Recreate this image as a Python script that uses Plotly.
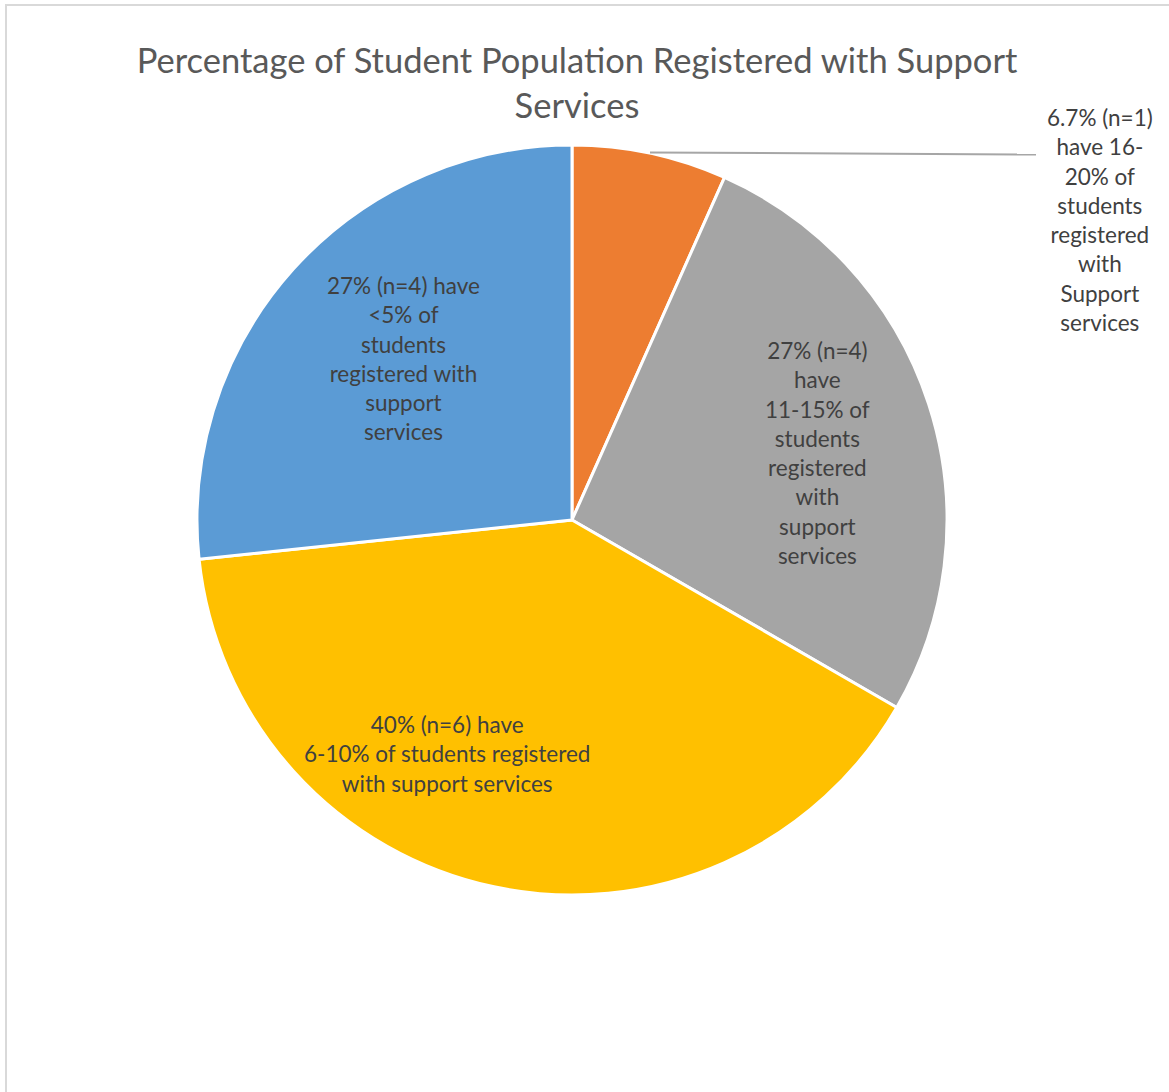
import plotly.graph_objects as go

# Share of institutions by the percentage of their students registered with support services
categories = ["16-20%", "11-15%", "6-10%", "<5%"]
counts = [1, 4, 6, 4]
colors = ["#ED7D31", "#A5A5A5", "#FFC000", "#5B9BD5"]
labels = [
    "6.7% (n=1)<br>have 16-<br>20% of<br>students<br>registered<br>with<br>Support<br>services",
    "27% (n=4)<br>have<br>11-15% of<br>students<br>registered<br>with<br>support<br>services",
    "40% (n=6) have<br>6-10% of students registered<br>with support services",
    "27% (n=4) have<br><5% of<br>students<br>registered with<br>support<br>services",
]

W, H = 1169, 1092
FONT = "Lato, 'Open Sans', sans-serif"


def px(x, y):
    return x / W, 1 - y / H


cx, cy, r = 572, 520, 375
fig = go.Figure(
    go.Pie(
        labels=categories,
        values=counts,
        sort=False,
        direction="clockwise",
        rotation=0,
        marker=dict(colors=colors, line=dict(color="white", width=3)),
        textinfo="none",
        hoverinfo="skip",
        showlegend=False,
        domain=dict(x=[(cx - r) / W, (cx + r) / W], y=[1 - (cy + r) / H, 1 - (cy - r) / H]),
    )
)

# label placement (pixel centres)
label_pos = [(1100, 220), (817, 453), (447, 754), (403, 359)]
for text, (x, y) in zip(labels, label_pos):
    ax, ay = px(x, y)
    fig.add_annotation(
        x=ax, y=ay, xref="paper", yref="paper", text=text, showarrow=False,
        xanchor="center", yanchor="middle", align="center",
        font=dict(family=FONT, size=22.5, color="#404040"),
    )

# leader line for the small slice
x0, y0 = px(650, 152.5)
x1, y1 = px(1036, 154.5)
fig.add_shape(type="line", xref="paper", yref="paper", x0=x0, y0=y0, x1=x1, y1=y1,
              line=dict(color="#A6A6A6", width=2))

# chart frame
fx, fy = px(6, 5)
fig.add_shape(type="rect", xref="paper", yref="paper", x0=fx, y0=-0.05, x1=1.05, y1=fy,
              line=dict(color="#D9D9D9", width=2), layer="below")

tx, ty = px(577, 73)
fig.update_layout(
    width=W, height=H,
    margin=dict(l=0, r=0, t=0, b=0),
    paper_bgcolor="white",
    plot_bgcolor="white",
    title=dict(
        text="Percentage of Student Population Registered with Support<br>Services",
        x=tx, y=ty, xanchor="center", yanchor="middle", xref="paper", yref="paper",
        font=dict(family=FONT, size=34.5, color="#595959"),
    ),
)

fig.write_html("out.html")
